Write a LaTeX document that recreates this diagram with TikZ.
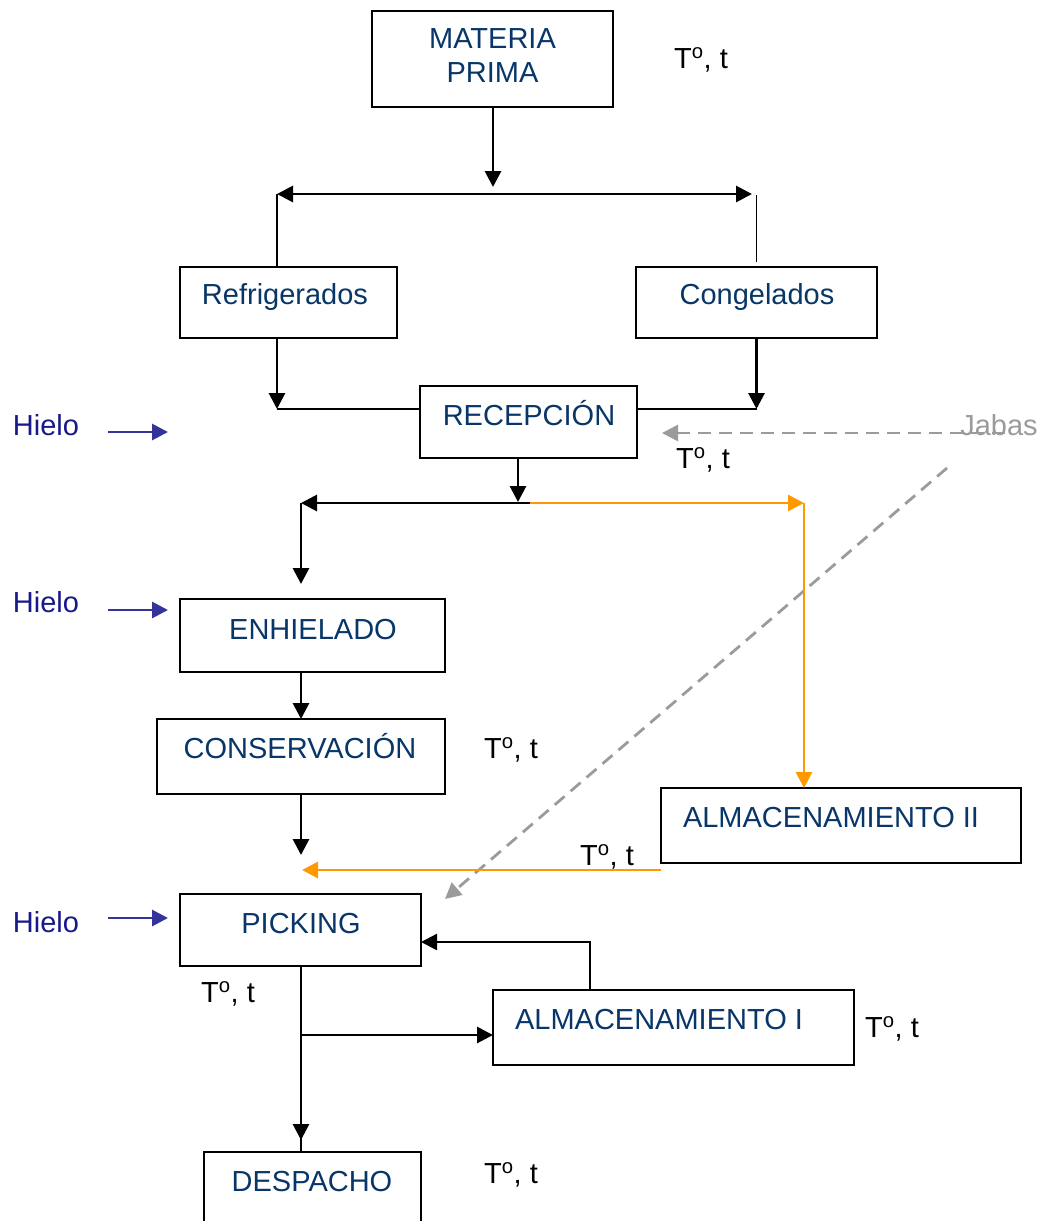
\documentclass[tikz,border=0pt]{standalone}
\usepackage{fontspec}
\setmainfont{Liberation Sans}
\usetikzlibrary{arrows.meta}

\definecolor{boxtext}{RGB}{8,54,104}
\definecolor{icetext}{RGB}{24,24,140}
\definecolor{icearrow}{RGB}{51,51,153}
\definecolor{floworange}{RGB}{255,153,0}
\definecolor{crategray}{RGB}{155,155,155}

\tikzset{
  flowtip/.tip={Triangle[length=16pt,width=16pt]},
  box/.style={draw=black, line width=2.2pt, anchor=north west, inner sep=0pt, outer sep=0pt},
  boxlabel/.style={text=boxtext, font=\fontsize{29}{34}\selectfont, anchor=base, inner sep=0pt},
  templabel/.style={text=black, font=\fontsize{29}{34}\selectfont, anchor=base, inner sep=0pt},
  icelabel/.style={text=icetext, font=\fontsize{29}{34}\selectfont, anchor=base, inner sep=0pt},
  cratelabel/.style={text=crategray, font=\fontsize{29}{34}\selectfont, anchor=base, inner sep=0pt},
  arr/.style={draw=black, line width=2.9pt, -flowtip},
  arrmid/.style={draw=black, line width=2.4pt, -flowtip},
  thinline/.style={draw=black, line width=1.8pt},
  orangearr/.style={draw=floworange, line width=2.9pt, -flowtip},
  icearr/.style={draw=icearrow, line width=2.9pt, -flowtip},
  cratearr/.style={draw=crategray, line width=2.8pt, dash pattern=on 13pt off 8pt, -flowtip}
}

\begin{document}
\begin{tikzpicture}[x=1pt,y=-1pt]
\useasboundingbox (0,0) rectangle (1044,1221);

% process boxes
\node[box, minimum width=241pt, minimum height=96pt] (mp)    at (372,11)  {};
\node[box, minimum width=217pt, minimum height=71pt] (refr)  at (180,267) {};
\node[box, minimum width=241pt, minimum height=71pt] (cong)  at (636,267) {};
\node[box, minimum width=217pt, minimum height=72pt] (recep) at (420,386) {};
\node[box, minimum width=265pt, minimum height=73pt] (enh)   at (180,599) {};
\node[box, minimum width=288pt, minimum height=75pt] (cons)  at (157,719) {};
\node[box, minimum width=360pt, minimum height=75pt] (alm2)  at (661,788) {};
\node[box, minimum width=241pt, minimum height=72pt] (pick)  at (180,894) {};
\node[box, minimum width=361pt, minimum height=75pt] (alm1)  at (493,990) {};
\node[box, minimum width=217pt, minimum height=90pt] (desp)  at (204,1152) {};

% box texts
\node[boxlabel, align=center, anchor=center] (mp-t) at (492.5,55.5) {MATERIA\\PRIMA};
\node[boxlabel] (refr-t)  at (285,304)  {Refrigerados};
\node[boxlabel] (cong-t)  at (757,304)  {Congelados};
\node[boxlabel] (recep-t) at (529,425)  {RECEPCIÓN};
\node[boxlabel] (enh-t)   at (313,639)  {ENHIELADO};
\node[boxlabel] (cons-t)  at (300,758)  {CONSERVACIÓN};
\node[boxlabel] (alm2-t)  at (831,827)  {ALMACENAMIENTO II};
\node[boxlabel] (pick-t)  at (301,933)  {PICKING};
\node[boxlabel] (alm1-t)  at (659,1029) {ALMACENAMIENTO I};
\node[boxlabel] (desp-t)  at (312,1191) {DESPACHO};

% temperature / time notes
\node[templabel] (tt1) at (701,68)   {T\textsuperscript{o}, t};
\node[templabel] (tt2) at (703,468)  {T\textsuperscript{o}, t};
\node[templabel] (tt3) at (511,758)  {T\textsuperscript{o}, t};
\node[templabel] (tt4) at (607,865)  {T\textsuperscript{o}, t};
\node[templabel] (tt5) at (228,1002) {T\textsuperscript{o}, t};
\node[templabel] (tt6) at (892,1037) {T\textsuperscript{o}, t};
\node[templabel] (tt7) at (511,1183) {T\textsuperscript{o}, t};

% ice inputs
\node[icelabel] (h1) at (46,435) {Hielo};
\node[icelabel] (h2) at (46,612) {Hielo};
\node[icelabel] (h3) at (46,932) {Hielo};
\coordinate (h1s) at (108,432);
\coordinate (h1e) at (168,432);
\coordinate (h2s) at (108,610);
\coordinate (h3s) at (108,918);
\draw[icearr] (h1s) -- (h1e);
\draw[icearr, shorten >=12pt] (h2s) -- (h2s -| enh.west);
\draw[icearr, shorten >=12pt] (h3s) -- (h3s -| pick.west);

% crates
\node[cratelabel] (jab) at (999,435) {Jabas};
\coordinate (js) at (1005,433);
\draw[cratearr, shorten >=25pt] (js) -- (js -| recep.east);
\coordinate (jd) at (947,468);
\coordinate (pk) at (445,899);
\draw[cratearr] (jd) -- (pk);

% raw material split
\coordinate (spl) at (493,194);
\coordinate (lt) at (277,194);
\coordinate (rt) at (752,194);
\coordinate (rv) at (757,195);
\draw[arr, shorten >=7pt] (mp.south -| spl) -- (spl);
\draw[draw=black, line width=2.9pt, flowtip-flowtip] (lt) -- (rt);
\draw[thinline] (lt) -- (lt |- refr.north);
\draw[thinline, shorten <=5pt] (cong.north) -- (cong.north |- rv);

% into reception
\coordinate (rjl) at (277,409);
\coordinate (rjr) at (756.5,409);
\draw[arr] (refr.south -| lt) -- (rjl);
\draw[thinline] (rjl) -- (rjl -| recep.west);
\draw[arr] (cong.south) -- (rjr);
\draw[thinline] (rjr) -- (rjr -| recep.east);

% after reception
\coordinate (sp2) at (518,502);
\coordinate (lb)  at (301,503);
\coordinate (mid) at (530,503);
\coordinate (orc) at (804,503);
\draw[arr] (recep.south -| sp2) -- (sp2);
\draw[arr] (mid) -- (lb);
\draw[orangearr] (mid) -- (orc);
\draw[orangearr] (orc) -- (orc |- alm2.north);
\draw[arr, shorten >=15pt] (lb) -- (lb |- enh.north);
\draw[arr] (enh.south -| lb) -- (lb |- cons.north);
\coordinate (jn) at (301,855);
\draw[arr] (cons.south -| jn) -- (jn);
\coordinate (oj) at (302,870);
\draw[orangearr] ([yshift=-7pt]alm2.south west) -- (oj);

% picking, storage and dispatch
\coordinate (pd1) at (301,1080);
\coordinate (pd2) at (301,1140);
\draw[thinline] (pick.south -| pd1) -- (desp.north -| pd1);
\draw[arr] (pd1) -- (pd2);
\coordinate (br)  at (301,1035);
\coordinate (br2) at (445,1035);
\draw[thinline] (br) -- (br2);
\draw[arr] (br2) -- (br2 -| alm1.west);
\coordinate (up) at (590,942);
\draw[arrmid] (alm1.north -| up) -- (up) -- (up -| pick.east);
\end{tikzpicture}
\end{document}
